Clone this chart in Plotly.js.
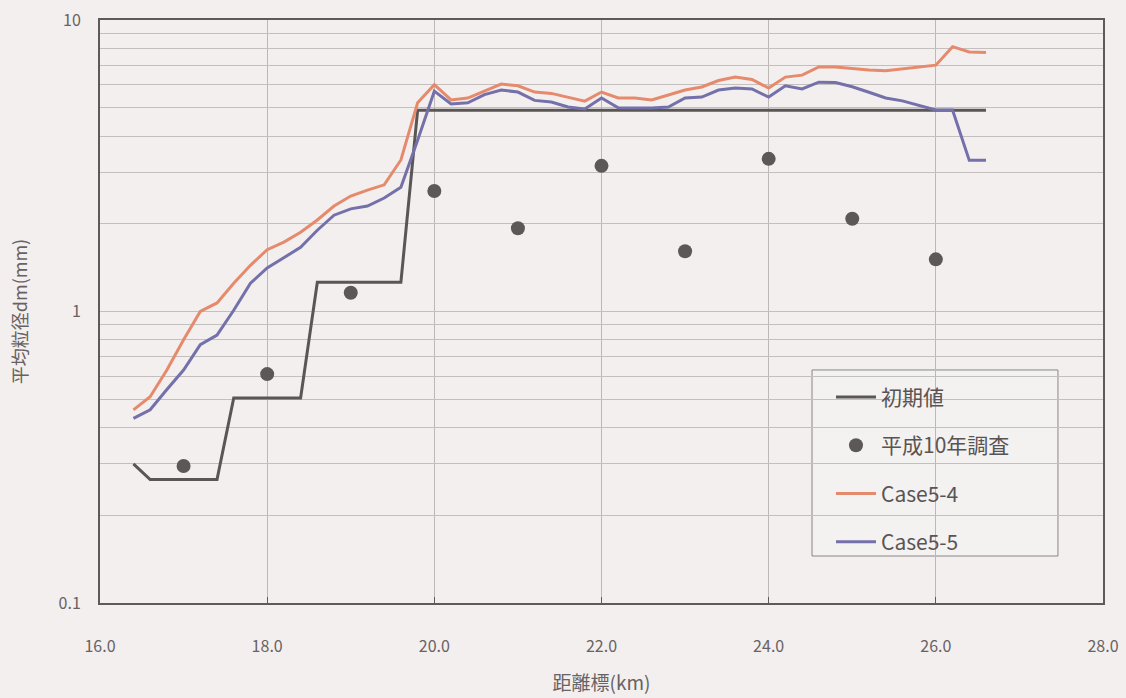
<!DOCTYPE html>
<html>
<head>
<meta charset="utf-8">
<script src="https://cdn.plot.ly/plotly-3.0.1.min.js"></script>
<style>
  html, body { margin: 0; padding: 0; background: #f3efef; }
  #chart { width: 1126px; height: 698px; }
</style>
</head>
<body>
<div id="chart"></div>
<script>
// 距離標 (km), 0.2 km pitch
const distKm = [16.4,16.6,16.8,17.0,17.2,17.4,17.6,17.8,18.0,18.2,18.4,18.6,18.8,19.0,19.2,19.4,19.6,19.8,
  20.0,20.2,20.4,20.6,20.8,21.0,21.2,21.4,21.6,21.8,22.0,22.2,22.4,22.6,22.8,23.0,23.2,23.4,23.6,23.8,
  24.0,24.2,24.4,24.6,24.8,25.0,25.2,25.4,25.6,25.8,26.0,26.2,26.4,26.6];

// 初期値 (mm)
const initialDm = [0.30,0.265,0.265,0.265,0.265,0.265,0.505,0.505,0.505,0.505,0.505,1.26,1.26,1.26,1.26,1.26,1.26,4.9,
  4.9,4.9,4.9,4.9,4.9,4.9,4.9,4.9,4.9,4.9,4.9,4.9,4.9,4.9,4.9,4.9,4.9,4.9,4.9,4.9,
  4.9,4.9,4.9,4.9,4.9,4.9,4.9,4.9,4.9,4.9,4.9,4.9,4.9,4.9];

// Case5-4 (mm)
const case54 = [0.46,0.51,0.63,0.80,1.00,1.07,1.25,1.44,1.63,1.73,1.87,2.06,2.30,2.49,2.61,2.72,3.31,5.2,
  6.0,5.32,5.4,5.7,6.03,5.95,5.66,5.6,5.44,5.27,5.66,5.4,5.4,5.32,5.53,5.75,5.89,6.2,6.37,6.25,
  5.84,6.37,6.47,6.9,6.9,6.8,6.74,6.7,6.8,6.9,7.0,8.1,7.77,7.73];

// Case5-5 (mm)
const case55 = [0.43,0.46,0.54,0.63,0.77,0.83,1.01,1.25,1.41,1.53,1.66,1.90,2.14,2.25,2.30,2.45,2.67,3.87,
  5.7,5.15,5.2,5.55,5.75,5.66,5.3,5.23,5.03,4.95,5.4,5.0,4.99,4.99,5.03,5.4,5.44,5.75,5.84,5.8,
  5.44,5.95,5.8,6.12,6.1,5.9,5.65,5.4,5.28,5.1,4.91,4.91,3.3,3.3];

// 平成10年調査
const surveyKm = [17.0,18.0,19.0,20.0,21.0,22.0,23.0,24.0,25.0,26.0];
const surveyDm = [0.295,0.61,1.16,2.59,1.93,3.16,1.61,3.34,2.08,1.51];

// y grid: every 1..9 step of each decade, labels on decades only
const yGridVals = [];
const yGridText = [];
[0.1, 1].forEach(function (d) {
  for (let m = 1; m <= 9; m++) {
    yGridVals.push(+(d * m).toFixed(2));
    yGridText.push(m === 1 ? String(d) : '');
  }
});
yGridVals.push(10); yGridText.push('10');

const FONT = '"Noto Sans CJK JP", "Noto Sans", sans-serif';
const TXT = '#686262';

const traces = [
  { x: distKm, y: initialDm, name: '初期値', mode: 'lines', legendgroup: 'a',
    line: { color: '#5a5656', width: 3 } },
  { x: surveyKm, y: surveyDm, name: '平成10年調査', mode: 'markers', legendgroup: 'b',
    marker: { color: '#5c5858', size: 14 } },
  { x: distKm, y: case54, name: 'Case5-4', mode: 'lines', legendgroup: 'c',
    line: { color: '#e58a6c', width: 3 } },
  { x: distKm, y: case55, name: 'Case5-5', mode: 'lines', legendgroup: 'd',
    line: { color: '#7470aa', width: 3 } }
];

const layout = {
  width: 1126, height: 698,
  margin: { l: 100, r: 23, t: 20, b: 95 },
  paper_bgcolor: '#f3efef',
  plot_bgcolor: '#f3efef',
  font: { family: FONT, color: TXT, size: 15 },
  showlegend: true,
  legend: {
    x: 0.7288, y: 0.388, xanchor: 'left', yanchor: 'top',
    bgcolor: 'rgba(0,0,0,0)', borderwidth: 0,
    font: { family: FONT, size: 21, color: '#595454' },
    tracegroupgap: 18, itemwidth: 40
  },
  // legend frame
  shapes: [{
    type: 'rect', xref: 'paper', yref: 'paper', layer: 'below',
    x0: 0.7099, x1: 0.9551, y0: 0.0806, y1: 0.3997,
    fillcolor: '#f4f1f1', line: { color: '#8a8686', width: 1 }
  }],
  xaxis: {
    range: [16, 28], dtick: 2, tick0: 16, tickformat: '.1f',
    showgrid: true, gridcolor: '#bdb8b8', gridwidth: 1,
    showline: true, linecolor: '#5e5a5a', linewidth: 2, mirror: true,
    ticks: 'inside', ticklen: 6, tickcolor: '#5e5a5a',
    ticklabelstandoff: 28, zeroline: false,
    tickfont: { family: FONT, size: 16, color: TXT },
    title: { text: '距離標(km)', font: { family: FONT, size: 19, color: TXT }, standoff: 20 }
  },
  yaxis: {
    type: 'log', range: [-1, 1],
    tickmode: 'array', tickvals: yGridVals, ticktext: yGridText,
    showgrid: true, gridcolor: '#c4bfbf', gridwidth: 1,
    showline: true, linecolor: '#5e5a5a', linewidth: 2, mirror: true,
    ticks: '', ticklabelstandoff: 14, zeroline: false,
    tickfont: { family: FONT, size: 16, color: TXT },
    title: { text: '平均粒径dm(mm)', font: { family: FONT, size: 18, color: TXT }, standoff: 26 }
  }
};

Plotly.newPlot('chart', traces, layout, { displayModeBar: false, staticPlot: true });
</script>
</body>
</html>
